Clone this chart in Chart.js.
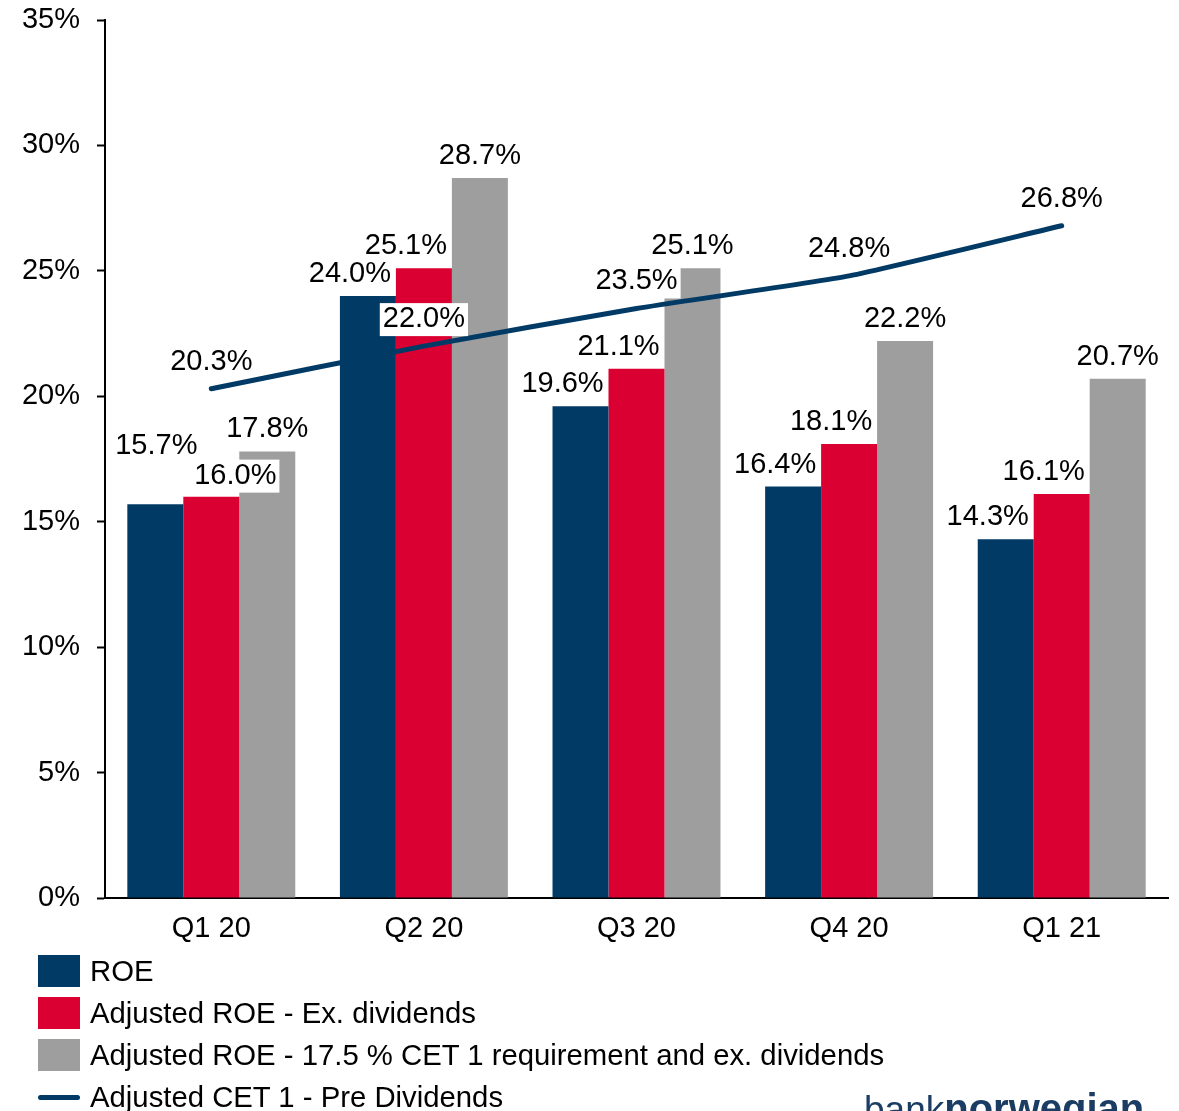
<!DOCTYPE html>
<html><head><meta charset="utf-8">
<script src="https://cdn.jsdelivr.net/npm/chart.js@4"></script>
<style>
html,body{margin:0;padding:0;width:1179px;height:1111px;overflow:hidden;background:#fff;font-family:"Liberation Sans",Arial,sans-serif;}
#wrap{position:absolute;left:0;top:0;width:1179px;height:950px;}
#legend{position:absolute;left:0;top:0;width:1179px;height:1111px;pointer-events:none;}
.row{position:absolute;left:38px;height:42px;display:flex;align-items:center;font-size:29.3px;color:#000;white-space:nowrap;}
.sw{width:42px;height:32px;margin-right:10px;flex:none;}
.ln{width:42px;height:5px;border-radius:3px;margin-right:10px;flex:none;}
#logo{position:absolute;left:864px;top:1088px;font-size:40px;color:#1c3d63;white-space:nowrap;line-height:40px;}
#logo .b1{font-size:37px;}
#logo b{font-weight:bold;}
</style></head>
<body>
<div id="wrap"><canvas id="c" width="1179" height="950"></canvas></div>
<div id="legend"></div>
<div id="logo"><span class="b1">bank</span><b>norwegian</b></div>
<script>
const categories = ['Q1 20', 'Q2 20', 'Q3 20', 'Q4 20', 'Q1 21'];
const roe = [15.7, 24.0, 19.6, 16.4, 14.3];
const adjRoeExDiv = [16.0, 25.1, 21.1, 18.1, 16.1];
const adjRoeCet175 = [17.8, 28.7, 25.1, 22.2, 20.7];
const adjCet1PreDiv = [20.3, 22.0, 23.5, 24.8, 26.8];
const yTickValues = [0, 5, 10, 15, 20, 25, 30, 35];
const seriesNames = ['ROE', 'Adjusted ROE - Ex. dividends', 'Adjusted ROE - 17.5 % CET 1 requirement and ex. dividends', 'Adjusted CET 1 - Pre Dividends'];

const NAVY = '#023a66', RED = '#db0032', GRAY = '#9e9e9e';
const FONT = '"Liberation Sans", Arial, sans-serif';

// label placement (offsets from the element position)
function labelStyle(di, i) {
  if (di === 3) return {dx: 0, dy: -27, box: (i === 1 || i === 2)};
  if (i === 0 && di === 0) return {dx: 1, dy: -58, box: false};
  if (i === 0 && di === 1) return {dx: 24, dy: -21, box: true};
  if (di === 2) return {dx: 0, dy: -22, box: false};
  return {dx: -18, dy: -22, box: false};
}

const labelPlugin = {
  id: 'valueLabels',
  afterDatasetsDraw(chart) {
    const ctx = chart.ctx;
    ctx.save();
    ctx.font = '29px ' + FONT;
    ctx.textAlign = 'center';
    ctx.textBaseline = 'middle';
    chart.data.datasets.forEach((ds, di) => {
      const meta = chart.getDatasetMeta(di);
      meta.data.forEach((el, i) => {
        const s = labelStyle(di, i);
        const txt = ds.data[i].toFixed(1) + '%';
        const x = el.x + s.dx, y = el.y + s.dy;
        if (s.box) {
          const w = ctx.measureText(txt).width + 6;
          ctx.fillStyle = '#fff';
          ctx.fillRect(x - w / 2, y - 16, w, 33);
        }
        ctx.fillStyle = '#000';
        ctx.fillText(txt, x, y);
      });
    });
    ctx.restore();
  }
};

new Chart(document.getElementById('c'), {
  data: {
    labels: categories,
    datasets: [
      {type: 'bar', label: seriesNames[0], data: roe, backgroundColor: NAVY, order: 2},
      {type: 'bar', label: seriesNames[1], data: adjRoeExDiv, backgroundColor: RED, order: 2},
      {type: 'bar', label: seriesNames[2], data: adjRoeCet175, backgroundColor: GRAY, order: 2},
      {type: 'line', label: seriesNames[3], data: adjCet1PreDiv, borderColor: NAVY, borderWidth: 5,
       pointRadius: 0, tension: 0.15, borderCapStyle: 'round', fill: false, order: 1}
    ]
  },
  options: {
    responsive: false,
    animation: false,
    devicePixelRatio: 1,
    layout: {autoPadding: false, padding: {top: 20, right: 11, left: 0, bottom: 0}},
    datasets: {bar: {categoryPercentage: 0.79, barPercentage: 1.0}},
    plugins: {legend: {display: false}, tooltip: {enabled: false}},
    scales: {
      x: {
        grid: {display: false},
        border: {display: true, color: '#000', width: 2},
        ticks: {color: '#000', font: {size: 29, family: FONT}, padding: 6},
        afterFit(s) { s.height = 52; }
      },
      y: {
        min: 0, max: 35,
        afterBuildTicks(s) { s.ticks = yTickValues.map(v => ({value: v})); },
        grid: {drawOnChartArea: false, drawTicks: true, tickLength: 8, tickWidth: 2, tickColor: '#000'},
        border: {display: true, color: '#000', width: 2},
        ticks: {color: '#000', font: {size: 29, family: FONT}, padding: 17, callback: v => v + '%'},
        afterFit(s) { s.width = 105; s.paddingTop = 0; s.paddingBottom = 0; }
      }
    }
  },
  plugins: [labelPlugin]
});

// legend
const legend = document.getElementById('legend');
const legendColors = [NAVY, RED, GRAY, NAVY];
const rowCenters = [971, 1013, 1055, 1097];
seriesNames.forEach((name, i) => {
  const row = document.createElement('div');
  row.className = 'row';
  row.style.top = (rowCenters[i] - 21) + 'px';
  const mark = document.createElement('div');
  mark.className = i === 3 ? 'ln' : 'sw';
  mark.style.background = legendColors[i];
  row.appendChild(mark);
  row.appendChild(document.createTextNode(name));
  legend.appendChild(row);
});
</script>
</body></html>
